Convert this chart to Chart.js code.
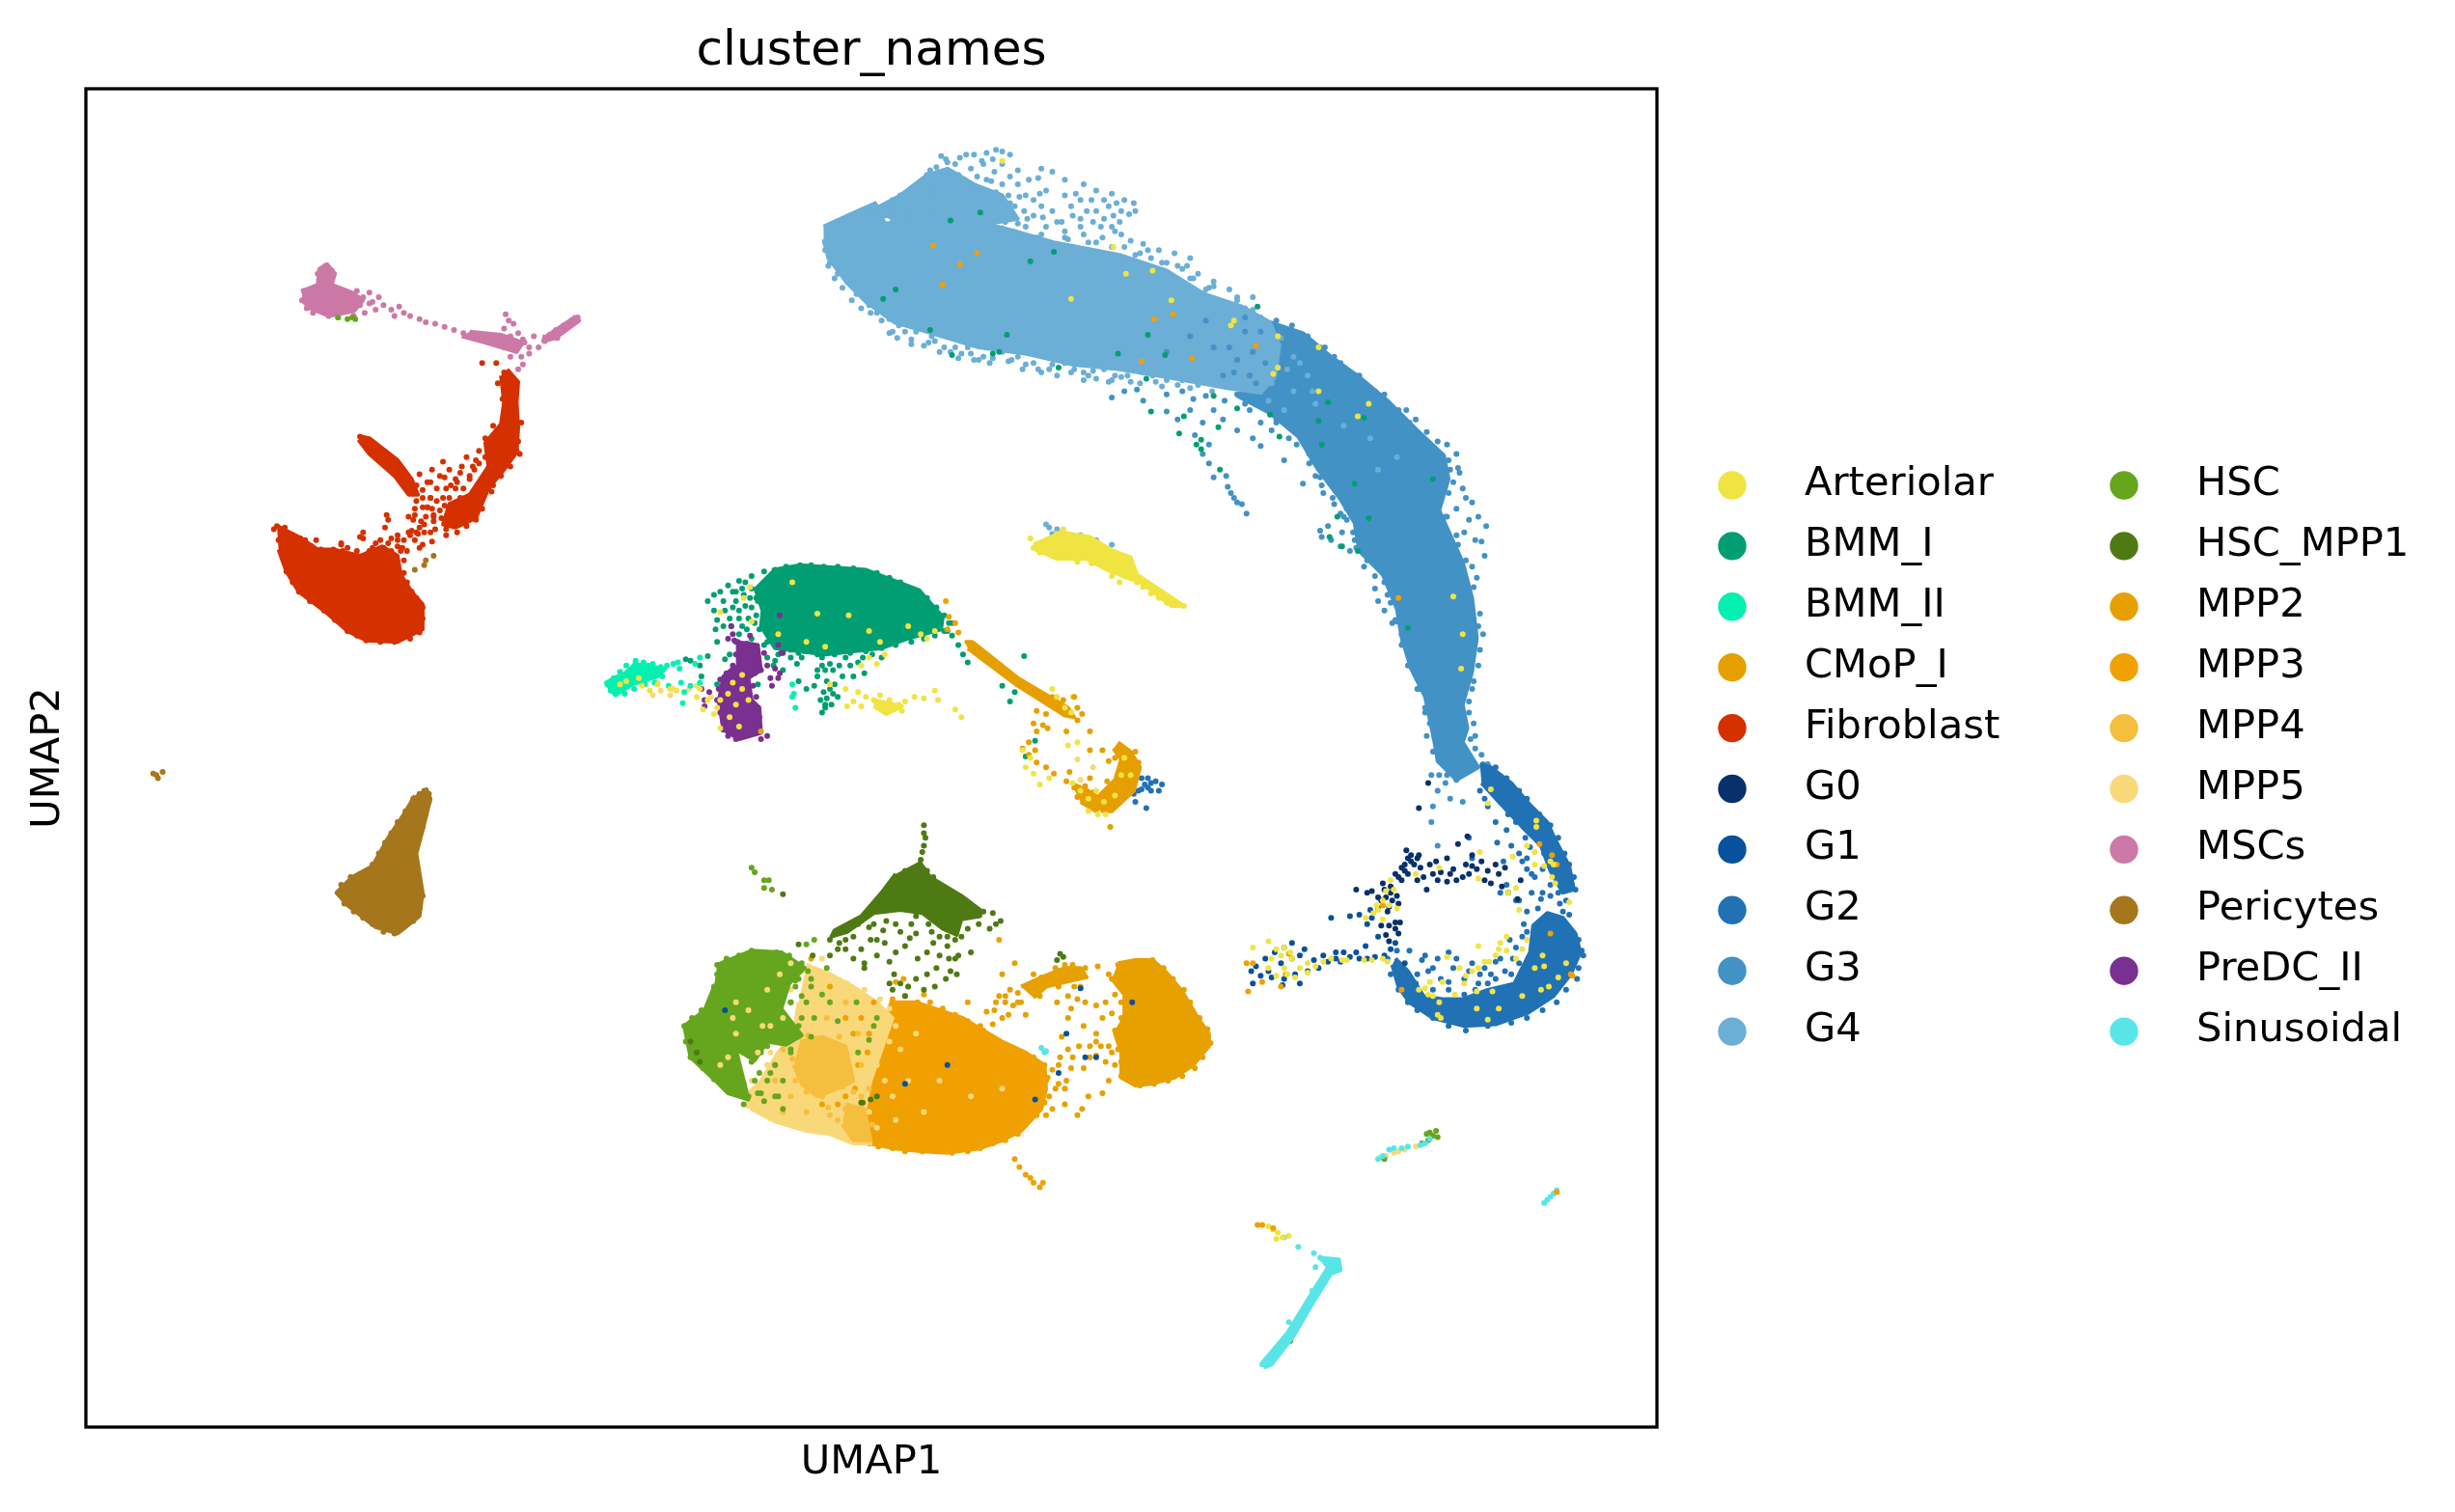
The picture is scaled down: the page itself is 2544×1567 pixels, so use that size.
<!DOCTYPE html>
<html><head><meta charset="utf-8">
<style>html,body{margin:0;padding:0;background:#fff}canvas{display:block}</style>
<script src="https://cdn.jsdelivr.net/npm/chart.js@4"></script></head>
<body><canvas id="c" width="2544" height="1567"></canvas>
<script>
// Outlines of the densely packed bodies of each cluster
const g4Body=[[526,145],[541,138],[559,130],[565,143],[589,140],[616,140],[649,148],[673,155],[715,163],[745,173],[769,188],[793,196],[811,206],[817,221],[814,241],[805,251],[784,248],[745,241],[715,236],[685,233],[655,226],[625,222],[595,213],[571,206],[553,193],[541,181],[529,165],[526,153]];
const g4Upper=[[556,135],[575,125],[592,112],[605,108],[622,118],[640,125],[650,140],[620,145],[580,145]];
const g3Body=[[811,206],[832,213],[850,228],[868,241],[886,256],[904,274],[922,291],[925,306],[919,326],[928,346],[934,359],[940,382],[943,407],[940,429],[934,450],[937,465],[934,474],[944,490],[930,498],[918,486],[916,474],[910,445],[901,427],[895,407],[892,389],[883,367],[868,352],[865,334],[856,319],[841,299],[829,279],[811,264],[790,253]];
const g2Ring=[[889,616],[893,630],[900,640],[915,650],[935,655],[955,654],[975,647],[992,636],[1003,622],[1009,608],[1006,596],[998,586],[988,583],[979,591],[977,608],[967,628],[950,632],[934,638],[922,638],[909,636],[899,620],[891,612]];
const g2Limb=[[945,488],[952,490],[965,500],[977,514],[988,525],[993,536],[1002,553],[1005,568],[998,570],[990,556],[984,540],[972,528],[958,513],[946,500]];
const fibroblastBlob=[[177,336],[191,343],[203,351],[213,351],[230,355],[244,349],[254,355],[256,367],[263,378],[270,386],[270,402],[254,410],[234,409],[222,403],[207,390],[191,378],[183,365],[178,351]];
const fibroblastArm=[[231,279],[236,280],[254,294],[263,306],[267,316],[261,316],[252,304],[236,290],[229,281]];
const fibroblastBand=[[324,236],[331,244],[330,257],[331,273],[330,289],[322,300],[312,312],[304,331],[291,337],[283,335],[287,322],[300,316],[312,298],[310,283],[320,271],[322,257],[320,240]];
const mscBlob=[[193,186],[203,182],[204,172],[209,169],[214,175],[212,182],[225,187],[232,192],[226,199],[210,202],[198,197],[193,192]];
const mscArm=[[300,212],[320,214],[334,219],[330,225],[310,219],[295,215]];
const mscTail=[[366,202],[370,205],[355,216],[347,218],[348,214]];
const periBody=[[272,503],[275,510],[270,530],[266,545],[270,570],[268,585],[254,596],[240,592],[222,578],[215,570],[225,560],[238,553],[248,535],[258,520],[265,508]];
const arteriolarBody=[[660,348],[678,340],[696,343],[709,351],[722,356],[726,367],[756,387],[748,387],[730,373],[709,365],[694,357],[675,357],[661,351]];
const arteriolarSmall=[[558,447],[576,451],[566,456],[558,451]];
const bmm1Body=[[493,364],[511,361],[553,364],[587,377],[602,394],[601,402],[579,408],[563,414],[527,418],[495,414],[486,400],[487,390],[482,375]];
const bmm2Body=[[404,424],[425,427],[420,432],[404,437],[393,444],[387,436],[396,431]];
const predcBody=[[470,410],[484,412],[486,428],[478,433],[480,447],[485,452],[486,468],[472,472],[462,466],[459,448],[462,432],[470,425]];
const mpp3Body=[[568,640],[585,640],[600,645],[615,650],[628,658],[640,665],[655,672],[667,680],[668,695],[665,708],[652,722],[640,728],[626,733],[605,736],[589,735],[570,733],[555,730],[552,710],[548,700],[555,690],[563,672],[562,655]];
const mpp2Lobe=[[714,615],[725,613],[736,613],[744,620],[755,633],[765,650],[772,660],[772,668],[762,680],[750,688],[735,692],[725,693],[716,688],[716,672],[712,660],[718,650],[718,635],[710,625]];
const mpp2Bridge=[[652,630],[665,624],[680,618],[690,618],[694,624],[680,627],[668,630],[660,637]];
const mpp5Body=[[515,616],[530,622],[545,630],[560,640],[570,650],[563,670],[556,690],[552,710],[556,730],[545,730],[530,724],[515,722],[495,716],[480,708],[476,700],[486,690],[497,672],[507,660],[510,640]];
const mpp4Body=[[511,665],[525,662],[540,668],[545,690],[535,695],[522,700],[512,692],[507,680]];
const mpp4Small=[[540,705],[552,708],[556,728],[545,728],[538,718]];
const hscBody=[[458,616],[480,607],[499,608],[514,618],[504,628],[499,644],[512,661],[502,667],[490,665],[482,677],[470,670],[475,690],[478,702],[465,698],[456,689],[441,675],[437,655],[450,645],[456,630]];
const hscMpp1Body=[[587,550],[594,560],[604,566],[614,572],[626,581],[626,585],[614,587],[611,597],[602,593],[589,583],[575,581],[558,583],[541,595],[531,598],[533,594],[550,585],[563,570],[572,558]];
const sinuBody=[[806,870],[822,851],[838,825],[848,809],[843,803],[855,804],[856,811],[850,813],[840,829],[826,853],[812,871],[807,873]];
const cmopStream=[[616,410],[621,410],[650,433],[682,452],[686,458],[680,457],[650,438],[618,414]];
const cmopLoop=[[714,474],[722,480],[728,490],[724,505],[710,518],[704,518],[700,510],[712,498],[716,485],[711,478]];
const cmopArc=[[684,500],[695,505],[705,512],[700,518],[690,512]];
// Individually visible cells
const g4Dots=[[636,96],[640,97],[645,99],[630,98],[622,99],[617,99],[605,104],[601,100],[610,105],[598,107],[592,112],[600,112],[587,118],[582,122],[596,120],[605,118],[575,125],[570,128],[565,132],[558,134],[552,138],[546,142],[541,147],[535,150],[530,152],[527,155],[612,112],[620,108],[628,105],[635,110],[650,109],[657,115],[665,108],[672,110],[680,115],[692,118],[700,122],[710,124],[718,128],[724,130],[725,135],[716,135],[708,132],[700,135],[690,128],[680,125],[668,122],[660,128],[650,118],[640,118],[630,115],[620,118],[612,125],[600,130],[590,130],[580,135],[570,140],[625,128],[638,128],[648,132],[660,138],[672,135],[685,138],[698,142],[710,145],[716,150],[722,154],[730,156],[740,160],[750,162],[760,165],[755,172],[765,175],[775,180],[785,185],[790,192],[770,190],[780,195],[795,197],[805,203],[800,190],[590,140],[600,138],[612,135],[620,140],[632,138],[642,142],[655,145],[668,145],[680,148],[692,150],[704,152],[580,145],[610,143],[575,135],[585,125],[595,125],[605,126],[615,130],[640,105],[655,125],[665,132],[678,142],[690,140],[705,140],[715,142],[725,163],[735,165],[745,168],[760,178],[770,185],[782,200],[527,160],[530,168],[535,175],[541,180],[547,188],[555,195],[560,200],[568,204],[574,208],[573,216],[585,212],[595,215],[603,222],[610,222],[620,226],[628,228],[618,222],[640,225],[650,228],[660,232],[670,236],[680,232],[692,238],[700,242],[712,240],[722,244],[705,236],[745,243],[736,240],[755,243],[765,246],[692,243],[708,244],[597,218],[612,229],[634,229],[655,233],[675,240],[690,233],[730,238],[750,240],[782,243],[796,240],[672,341],[675,338],[670,337],[668,335],[690,342],[700,345],[710,348],
[604,102],[613,101],[627,103],[634,102],[589,116],[594,109],[603,110],[608,113],[616,115],[624,113],[633,116],[645,113],[663,114],[576,130],[584,129],[592,122],[599,124],[608,122],[618,124],[626,121],[636,123],[644,125],[651,126],[664,124],[687,124],[697,128],[705,128],[713,130],[721,137],[570,135],[578,140],[588,135],[596,136],[604,133],[609,131],[622,134],[628,133],[637,135],[645,137],[654,135],[666,139],[675,142],[684,132],[694,135],[703,145],[712,148],[565,138],[574,143],[582,140],[594,142],[603,142],[626,142],[640,146],[662,152],[682,153],[700,155],[718,158],[733,160],[758,170],[772,184],[790,190],[568,213],[582,217],[590,221],[607,225],[625,230],[644,231],[663,236],[684,238],[698,237],[716,241],[738,244],[774,250],[656,140],[690,145],[711,138],[624,136],[632,125],[645,130],[601,118],
[529,170],[533,178],[538,184],[544,192],[550,197],[556,200],[563,205],[570,212],[578,212],[582,220],[593,219],[600,225],[614,226],[622,230],[632,232],[646,230],[653,236],[665,238],[672,233],[686,236],[695,240],[710,243],[720,240],[728,245],[742,247],[752,246],[760,248],[650,143],[665,150],[680,152],[695,155],[710,158],[728,162],[742,168],[752,170],[762,178],[775,183],[800,198]];
const g3Dots=[[815,205],[825,208],[835,215],[843,222],[852,228],[860,238],[868,240],[878,250],[885,258],[890,266],[893,272],[903,278],[910,285],[919,292],[925,294],[931,299],[928,308],[934,312],[940,321],[944,330],[949,336],[946,346],[948,355],[943,369],[940,362],[935,340],[930,325],[922,305],[912,298],[905,290],[915,310],[924,330],[931,348],[934,365],[937,380],[940,395],[942,410],[944,425],[940,440],[938,455],[942,470],[946,482],[950,488],[790,252],[800,256],[810,262],[822,268],[830,278],[836,290],[832,309],[820,294],[805,285],[840,304],[845,315],[852,322],[860,332],[844,343],[856,349],[865,345],[871,362],[880,384],[892,397],[878,368],[886,380],[895,405],[902,425],[905,440],[910,455],[916,470],[920,486],[924,495],[718,250],[726,249],[710,254],[730,256],[745,252],[755,250],[760,262],[768,270],[752,268],[745,263],[762,255],[775,262],[763,278],[772,284],[768,290],[772,296],[775,305],[784,311],[786,315],[790,321],[796,328],[783,304],[788,318],[793,322],[812,240],[820,250],[826,259],[832,268],[815,270],[823,280],[838,260],[848,272],[835,248],[857,340],[866,320],[859,312],[850,298],[914,495],[934,512],[918,505],[926,510],[914,525],[918,540],[915,515],[947,488],[930,498],[843,339],[850,345],[862,352],[848,336],[856,328],[844,310],[838,295],[851,306],[860,325],[873,358],[878,376],[884,390],[889,398],[896,410],[907,440],[913,462],[932,302],[936,318],[942,345],[938,332],[930,290],[924,284],[918,282],[911,276],[904,268],[898,262],[944,400],[945,415],[939,472],[942,478],[919,495],[923,500],[915,480],[911,470],[798,262],[805,270],[812,275],[782,256],[770,253],[781,268],[790,275],[800,280],
[795,258],[815,268],[828,284],[836,296],[843,305],[851,318],[858,330],[864,340],[866,350],[876,358],[884,372],[888,385],[891,396],[895,412],[899,425],[906,440],[910,452],[846,222],[856,232],[866,240],[875,248],[884,252],[893,262],[900,270],[926,300],[925,315],[923,330],[930,342],[936,358],[941,375],[945,392],[947,405],[941,435],[938,448],[941,462]];
const g3OverG4=[[790,230],[795,212],[785,222],[800,225],[805,212],[798,240],[808,232],[781,240],[775,222],[770,205],[788,238],[802,245],[795,203],[760,215],[745,225]];
const g4OverG3=[[815,225],[822,236],[812,245],[826,250],[835,240],[820,262],[840,258],[858,272],[875,280],[892,292],[880,300],[818,216],[826,228],[810,256],[830,232],[838,250]];
const g2Dots=[[955,490],[962,497],[970,505],[975,510],[983,520],[990,527],[995,535],[999,545],[1002,552],[1005,560],[1006,568],[1000,575],[996,577],[990,565],[985,570],[975,582],[980,592],[988,585],[998,582],[1002,584],[1008,600],[1010,607],[1011,610],[1008,618],[1007,625],[1000,632],[994,640],[985,645],[975,650],[965,653],[950,655],[936,658],[925,655],[915,650],[905,645],[899,640],[893,632],[888,622],[886,612],[892,607],[900,607],[910,610],[918,612],[925,608],[930,612],[940,615],[945,622],[935,625],[920,625],[912,620],[905,622],[915,632],[925,632],[935,635],[942,632],[950,628],[957,632],[965,622],[970,615],[968,605],[975,595],[973,590],[982,590],[991,585],[970,545],[975,555],[980,560],[965,540],[960,550],[958,570],[962,565],[975,548],[985,555],[978,570],[970,575],[968,575],[982,580],[990,548],[995,560],[974,535],[968,525],[963,520],[958,512],[948,510],[945,505],[950,515],[955,525],[962,530],[956,538],[940,548],[938,535],[729,497],[733,497],[738,499],[742,501],[735,505],[727,505],[740,505],[725,512],[732,516],[720,500],[723,495],[731,501],[735,500],[729,504],[733,503],[724,507],[908,613],[915,618],[928,618],[938,620],[948,618],[955,614],[961,620],[966,612],[972,598],[964,600],[958,612],[952,622],[904,628],[925,627],[944,628],[955,625],[908,640],[975,530],[982,537],[986,545],[992,552],[977,541],[972,550],[978,558],[995,570],[990,572],[984,574]];
const g0Dots=[[899,548],[903,552],[895,554],[891,558],[897,556],[901,546],[907,554],[913,552],[917,550],[924,548],[909,560],[915,558],[905,562],[911,568],[924,563],[930,562],[936,552],[940,546],[938,558],[946,550],[950,556],[957,558],[952,564],[959,566],[963,570],[969,574],[971,562],[961,554],[883,564],[885,573],[889,575],[887,579],[893,577],[866,568],[873,570],[876,569],[882,591],[887,591],[891,589],[894,589],[891,593],[893,596],[887,601],[885,597],[931,539],[937,534],[906,516],[912,500],[895,562],[880,580],[888,570],[884,568],[892,572],[920,557],[928,555],[943,555],[955,552],[948,562],[898,543],[906,546],[934,560],[940,553],[918,562],[926,558],[901,550],[897,552],[905,548],[893,560],[899,558],[886,582],[882,575],[880,573],[888,566]];
const g1Dots=[[802,617],[808,612],[814,608],[820,605],[825,602],[810,620],[818,615],[825,612],[830,610],[833,606],[805,623],[812,624],[820,625],[827,622],[835,620],[842,618],[848,614],[853,612],[858,608],[856,614],[862,611],[868,612],[873,612],[878,611],[884,610],[888,606],[891,602],[872,604],[880,598],[875,581],[868,584],[862,585],[873,590],[876,586],[850,586],[799,620],[800,628],[819,629],[830,628],[839,613],[845,610],[853,608],[866,608],[897,615]];
const arteriolarDots=[[658,344],[660,350],[664,353],[670,346],[675,341],[679,338],[685,344],[690,347],[695,349],[678,356],[688,359],[697,360],[703,352],[712,360],[718,358],[722,368],[726,372],[730,375],[735,379],[740,382],[745,385],[750,386],[756,387],[710,368],[715,372],[548,442],[545,448],[558,447],[562,451],[566,452],[570,453],[574,450],[578,448],[584,445],[590,446],[597,441],[599,447],[610,453],[614,458],[553,445],[562,444],[568,447],[541,451],[550,451],[576,454],[813,785],[810,783],[816,787],[819,790],[815,791],[823,789],[468,436],[474,431],[478,447],[470,450],[465,443],[452,447],[458,452],[474,440],[466,458],[456,456],[460,465],[472,464],[410,438],[415,441],[420,437],[400,435],[408,433],[396,437],[432,441],[445,445],[447,440],[449,453],[460,447],[655,490],[660,494],[658,484],[653,479],[664,501],[670,497],[695,510],[700,505],[705,512],[712,508],[716,495],[722,495],[718,484],[690,505],[685,500],[701,520],[706,520],[695,518],[688,474],[684,455],[682,476],[672,440],[675,445],[680,452]];
const arteriolarSpecks=[[640,103],[711,158],[719,175],[736,173],[684,191],[748,192],[788,205],[786,208],[816,215],[842,222],[816,235],[813,239],[842,250],[874,258],[867,266],[928,381],[933,427],[934,405],[952,504],[950,513],[981,524],[981,528],[975,540],[980,544],[990,550],[992,552],[986,553],[980,552],[991,560],[993,564],[1002,576],[966,547],[945,544],[944,561],[968,567],[963,570],[919,554],[904,558],[888,562],[885,569],[883,575],[890,568],[877,583],[872,586],[880,581],[887,578],[883,587],[892,580],[879,578],[970,581],[975,600],[962,598],[958,602],[955,610],[951,614],[948,614],[944,618],[940,620],[936,623],[932,618],[957,606],[962,607],[968,612],[972,606],[980,618],[985,610],[986,617],[1000,615],[995,624],[989,630],[984,632],[972,636],[953,633],[943,633],[935,628],[929,635],[906,632],[910,631],[913,627],[915,636],[921,627],[912,635],[919,640],[918,648],[920,650],[943,644],[950,651],[957,644],[924,611],[944,604],[800,605],[810,601],[815,606],[820,605],[818,610],[812,612],[824,608],[810,618],[820,618],[825,612],[815,623],[822,622],[830,618],[835,615],[840,617],[845,614],[850,612],[857,613],[860,613],[871,613],[876,613],[883,612],[886,614],[827,624],[835,621],[506,372],[479,375],[475,382],[460,391],[542,393],[522,392],[555,403],[562,410],[580,400],[588,405],[592,408],[597,403],[527,413],[515,410],[555,420],[550,425],[540,440],[480,397],[497,405],[428,440],[530,437],[560,424],[565,418]];
const bmm1Dots=[[452,384],[456,380],[460,378],[465,374],[472,371],[480,368],[488,365],[495,364],[502,362],[511,361],[518,361],[526,362],[535,362],[545,363],[553,365],[560,366],[568,369],[575,372],[582,376],[587,378],[592,382],[598,388],[603,393],[606,398],[603,403],[597,406],[590,408],[582,410],[572,412],[563,414],[553,416],[543,417],[533,418],[522,418],[510,417],[499,414],[490,410],[485,402],[483,393],[486,385],[490,378],[480,376],[475,380],[470,384],[463,390],[480,388],[478,395],[474,400],[458,396],[457,402],[458,410],[466,395],[472,405],[480,408],[470,378],[476,372],[483,382],[514,416],[525,420],[530,424],[527,428],[532,428],[522,432],[528,435],[533,437],[520,438],[526,442],[532,443],[535,445],[527,450],[531,450],[524,447],[538,432],[543,425],[540,420],[548,423],[552,430],[545,432],[551,420],[557,418],[563,420],[505,420],[509,424],[512,420],[500,428],[495,422],[494,425],[466,418],[463,421],[479,423],[441,422],[452,419],[447,425],[438,421],[448,432],[458,437],[484,437],[510,435],[515,440],[605,403],[608,406],[612,412],[615,418],[618,423],[608,398],[640,438],[648,442],[645,448],[661,473],[655,483],[527,452],[525,455],[654,419],[530,440],[522,428],[536,425],[525,425],[528,446],
[456,390],[462,384],[468,378],[472,390],[467,400],[476,387],[482,398],[484,384],[474,376],[479,382],[462,400],[470,410],[476,415],[488,412],[484,420],[472,395],[490,420],[497,418],[505,415],[468,388],[477,402]];
const bmm2Dots=[[388,437],[392,433],[396,429],[400,425],[406,422],[411,423],[417,424],[422,426],[426,425],[423,432],[418,436],[412,437],[405,440],[399,443],[393,443],[390,441],[430,424],[433,423],[434,427],[447,420],[427,438],[435,436],[441,438],[437,442],[436,449],[447,436],[444,424],[506,437],[507,443],[506,445],[478,414],[508,452],[414,425],[408,428],[394,436]];
const predcDots=[[465,408],[468,405],[469,409],[471,410],[477,411],[480,412],[483,413],[470,418],[468,425],[464,430],[460,434],[459,440],[458,447],[460,455],[462,461],[462,466],[465,470],[470,472],[476,470],[482,468],[485,466],[486,472],[490,470],[485,458],[484,452],[483,445],[481,438],[482,430],[480,424],[486,428],[490,425],[495,427],[498,430],[492,433],[493,438],[497,433],[448,440],[450,447],[453,442],[450,451],[463,450],[466,441],[473,412],[479,406],[480,418],[488,417],[500,417],[497,412],[499,417],[467,400],[498,393]];
const fibroblastDots=[[177,336],[182,337],[189,343],[178,345],[180,351],[183,358],[183,365],[187,372],[191,378],[198,384],[207,390],[214,396],[222,403],[228,406],[234,409],[243,410],[252,410],[262,408],[268,404],[270,395],[270,388],[266,382],[263,378],[260,372],[258,366],[254,365],[252,360],[250,352],[245,350],[240,347],[236,352],[232,344],[224,355],[222,350],[218,348],[213,351],[205,351],[202,345],[195,345],[230,279],[233,281],[236,284],[240,288],[244,288],[248,292],[252,295],[256,298],[260,304],[258,308],[263,312],[266,310],[270,318],[275,318],[273,324],[269,333],[271,340],[266,340],[262,342],[258,345],[257,350],[264,332],[278,338],[285,342],[292,340],[298,336],[304,332],[306,325],[302,320],[296,324],[288,325],[282,331],[272,330],[279,320],[285,312],[292,308],[300,304],[308,306],[313,298],[317,303],[320,295],[330,288],[331,282],[328,270],[329,258],[327,250],[325,241],[322,238],[318,245],[321,255],[315,272],[310,280],[306,288],[312,312],[305,316],[298,322],[308,319],[315,310],[284,305],[275,308],[268,303],[276,346],[270,348],[248,332],[261,340],[246,337],[232,340],[277,330],[265,325],[294,318],[287,318],[317,232],[308,232],[273,308],[281,304],[287,300],[295,298],[304,294],[291,306],[300,306],[275,318],[283,318],[291,312],[271,335],[277,333],[263,339],[254,345],[247,329],[261,330],[265,329],[230,343],[218,347],[250,344],[267,341],[254,349],[273,324],[277,329],[281,326],[268,337],[279,312],[270,313],[276,300],[283,295],[298,292],[310,292],[303,300],[296,312],[289,330],[275,340],
[192,344],[199,349],[210,355],[219,352],[228,352],[238,350],[243,345],[248,347],[256,352],[258,358],[175,338],[181,343],[186,348],[258,310],[266,320],[270,324],[276,325],[284,323],[288,310],[294,302],[302,298],[314,290],[316,280],[306,296],[326,262],[333,270],[324,275],[332,290],[326,298],[320,304],[314,314],[308,325],[298,328],[285,338],[254,342],[265,345],[260,352],[268,350]];
const mscDots=[[208,170],[212,173],[203,175],[205,182],[194,186],[193,192],[196,197],[200,200],[210,202],[216,203],[226,202],[233,200],[236,194],[232,190],[228,186],[236,187],[242,190],[245,195],[240,198],[250,198],[255,196],[252,202],[258,200],[262,202],[268,204],[272,206],[278,207],[284,209],[290,211],[296,213],[302,214],[308,216],[314,217],[320,216],[326,215],[331,213],[334,217],[338,222],[344,222],[348,218],[341,215],[351,214],[355,211],[360,208],[365,205],[369,203],[356,216],[328,222],[326,228],[333,228],[338,226],[331,236],[334,233],[323,201],[325,205],[322,210],[328,207],[317,218],[322,222],[335,219],[203,194],[222,198],[230,195],[238,193]];
const periDots=[[271,505],[274,507],[268,507],[264,510],[259,518],[254,525],[250,532],[274,512],[272,520],[270,528],[266,538],[264,548],[266,558],[268,566],[270,572],[268,580],[264,588],[258,592],[252,596],[245,595],[238,590],[232,586],[226,582],[220,577],[216,570],[218,565],[224,560],[230,558],[238,552],[242,545],[246,538],[100,495],[104,493],[101,497],[98,494],[272,358],[271,361],[277,355],[265,364]];
const cmopDots=[[653,478],[657,482],[662,487],[668,490],[673,494],[681,499],[686,503],[691,507],[696,511],[701,515],[707,517],[709,528],[683,493],[696,497],[707,499],[696,479],[704,479],[708,486],[712,484],[662,454],[668,456],[666,463],[662,467],[669,465],[681,467],[688,460],[696,467],[657,474],[661,479],[684,455],[688,452],[691,456],[686,445],[679,447],[672,445],[660,462],[703,512],[698,506],[693,502],[688,509],[709,510],[712,512],[716,508],[719,500],[723,497],[727,487],[725,480]];
const mpp2Dots=[[714,616],[722,615],[730,614],[736,613],[743,618],[749,625],[756,632],[760,640],[766,650],[771,657],[773,666],[768,675],[763,682],[755,687],[746,690],[737,692],[728,693],[722,690],[716,687],[716,678],[714,670],[718,662],[712,658],[716,650],[716,640],[718,630],[708,622],[701,617],[693,618],[685,616],[680,616],[674,618],[665,624],[658,630],[650,634],[642,636],[636,640],[630,646],[644,648],[652,640],[664,636],[672,628],[680,626],[688,622],[682,636],[684,644],[682,650],[675,640],[690,630],[693,640],[700,642],[706,640],[710,647],[704,650],[700,660],[692,655],[696,668],[689,668],[682,670],[677,675],[684,682],[672,683],[668,690],[674,695],[680,695],[692,682],[700,674],[706,678],[708,690],[704,698],[695,700],[691,708],[680,705],[688,712],[700,665],[640,622],[642,640],[626,655],[634,654],[648,615],[660,622],[672,622],[680,620],[710,625],[712,635],[708,668],[720,640],[722,650],[647,642],[655,648],[640,650],[635,645],[688,638],[686,630],[678,662],[685,675],[676,680],[696,675],[703,668],[712,680],[710,672],[681,690],[645,632],[638,636],[650,640],[660,633],[668,626],[676,630]];
const mpp3Dots=[[570,638],[578,636],[586,640],[594,640],[602,644],[610,648],[618,652],[628,658],[636,664],[644,668],[652,672],[660,675],[667,680],[669,688],[667,696],[667,704],[662,712],[655,718],[650,724],[642,728],[634,730],[626,733],[618,735],[608,736],[598,735],[589,735],[578,735],[570,733],[561,732],[555,730],[648,740],[651,745],[655,750],[660,755],[664,758],[666,755],[658,752],[659,700],[676,692],[670,700],[672,708],[668,712],[572,627],[580,630],[590,635]];
const mpp3OverMpp5=[[562,685],[555,660],[558,640],[550,650],[545,660],[548,680],[546,695],[540,700],[535,705],[525,705],[552,715],[544,725],[530,630],[518,612],[500,615],[540,650],[554,672],[558,700],[560,725]];
const mpp4Dots=[[510,662],[516,661],[524,664],[536,662],[540,672],[540,684],[538,694],[525,700],[515,697],[508,690],[506,676],[510,683],[529,707],[540,708],[548,712],[543,722],[552,725],[550,700],[545,697],[530,712],[557,718],[500,670],[495,690],[505,700],[550,680],[555,695],[515,710],[535,715],[528,650],[548,660],[500,710],[540,640]];
const mpp5Dots=[[512,620],[520,622],[530,624],[540,628],[552,632],[562,638],[568,644],[556,646],[558,655],[552,665],[541,628],[505,632],[510,648],[500,670],[492,672],[490,680],[480,690],[482,700],[478,706],[485,710],[492,714],[500,716],[510,718],[520,720],[530,722],[540,720],[484,662],[488,650],[498,655],[515,632],[525,612],[890,736],[885,738],[881,739],[893,735],[897,734],[904,732],[817,862],[818,860],[815,864],[465,465],[470,466],[476,468],[480,464],[461,455],[454,445],[445,438],[440,440],[428,444],[430,440],[422,441],[420,436],[417,444],[688,485],[698,490],[690,498],[685,445]];
const mpp5Mixed=[[470,660],[465,675],[468,650],[478,645],[490,632],[498,622],[505,615],[487,655],[460,680],[484,672],[492,655],[470,640],[500,650],[565,650],[572,655],[568,665],[575,670],[560,680],[565,690],[570,700],[555,710],[560,720],[572,715],[580,690],[600,690],[620,700],[590,710],[585,660],[640,695]];
const hscDots=[[458,616],[464,612],[472,610],[480,607],[488,608],[496,608],[504,610],[512,615],[516,620],[518,630],[512,636],[505,640],[500,648],[510,655],[508,661],[502,656],[495,662],[490,668],[480,678],[482,690],[484,698],[475,692],[470,697],[465,690],[456,689],[449,682],[441,675],[438,665],[437,655],[442,650],[448,645],[454,640],[456,630],[458,622],[500,622],[508,626],[497,638],[490,645],[478,700],[475,705],[488,703],[497,700],[495,680],[480,554],[482,557],[488,562],[491,562],[488,567],[493,568],[520,600],[515,603],[510,625],[528,618],[558,655],[555,664],[915,725],[912,728],[908,730],[917,722],[913,723],[918,726],[911,724],[884,740],[820,857],[824,856],[216,203],[222,204],[225,203],[227,204],[470,650],[478,660],[486,672],[492,685],[505,670],[468,678],[455,650],[484,650],[505,640],[512,650],[520,650],[518,662],[505,672],[495,680],[490,690],[500,690],[485,685],[495,700],[508,630],[518,625],[525,635],[515,640],[530,640],[486,698],[500,708],[560,650],[547,640],[535,652],[548,672]];
const hscMpp1Dots=[[590,527],[590,532],[591,535],[590,540],[589,544],[588,549],[592,556],[596,560],[600,566],[628,582],[611,593],[548,590],[533,596],[530,600],[536,602],[545,598],[555,592],[564,594],[575,595],[585,596],[596,602],[605,604],[610,612],[607,620],[611,622],[612,610],[598,618],[604,625],[592,622],[597,630],[585,625],[590,632],[575,628],[570,632],[578,636],[568,628],[550,606],[545,612],[540,606],[552,618],[560,610],[568,614],[552,615],[535,606],[530,610],[620,608],[636,590],[632,593],[639,588],[634,583],[610,600],[592,608],[556,600],[578,604],[565,602],[500,571],[519,610],[510,603],[677,609],[675,613],[679,611],[556,702],[551,704],[560,700],[550,704],[441,665],[445,672],[447,678],[820,858],[818,862],[572,590],[582,590],[593,590],[600,598],[605,590],[540,600],[558,590],[566,588],[600,610],[606,612],[614,598],[581,599],[572,608],[586,612],[580,630],[571,622],[560,600],[560,578],[570,565],[578,556],[550,588],[600,575],[610,580],[620,585],[625,590],[618,593],[605,598],[595,595],[585,585]];
const sinuDots=[[806,871],[808,869],[810,867],[813,864],[815,861],[817,858],[820,855],[846,804],[843,803],[849,812],[846,818],[838,824],[823,844],[839,800],[829,796],[820,790],[840,809],[880,740],[883,738],[887,734],[890,733],[895,733],[899,732],[907,731],[910,730],[913,727],[986,768],[988,766],[990,764],[992,762],[994,760],[665,669],[667,672],[668,671]];
const g1Specks=[[463,645],[693,675],[700,675],[681,660],[661,702],[578,692],[605,680],[676,685],[690,631],[723,640]];
const mpp3Specks=[[596,157],[624,162],[613,169],[602,182],[737,204],[749,201],[802,221],[729,231],[761,229],[893,382],[895,632],[883,578],[983,539],[991,546],[994,552],[990,596],[1003,622],[1004,623],[800,615],[796,615],[806,627],[797,633],[818,630],[821,622],[823,609],[486,467],[813,784],[806,782],[803,782],[994,761],[606,394],[605,402],[612,404],[610,398],[604,384],[618,640],[577,625],[638,600]];
const bmm1Specks=[[626,136],[607,141],[673,161],[658,167],[572,185],[564,191],[594,211],[643,214],[608,227],[634,226],[638,225],[676,235],[733,214],[714,226],[744,227],[732,242],[775,253],[735,263],[756,266],[778,273],[753,277],[767,281],[764,284],[767,287],[779,300],[790,261],[811,265],[817,279],[844,284],[842,269],[848,257],[871,267],[915,306],[865,309],[874,331],[854,330],[849,343],[857,349],[867,352],[899,401],[803,196]];
// Axis limits and categories
const xLimits=[55,1058];
const yLimits=[57,911];
const names=["Arteriolar","BMM_I","BMM_II","CMoP_I","Fibroblast","G0","G1","G2","G3","G4","HSC","HSC_MPP1","MPP2","MPP3","MPP4","MPP5","MSCs","Pericytes","PreDC_II","Sinusoidal"];
const colors=["#f0e442","#029e73","#04f0b0","#e69f00","#d53000","#08306b","#08519c","#2171b5","#4292c6","#6baed6","#66a61e","#4e7a14","#e6a000","#f0a000","#f6be3f","#f9d87a","#cc79a7","#a6761d","#7a3090","#59e5e8"];
// paint order, back to front: [values, category, dense outline?]
const layers=[
 [g3Body,8,1],[g3Dots,8,0],[g4Body,9,1],[g4Upper,9,1],[g4Dots,9,0],[g3OverG4,8,0],[g4OverG3,9,0],[g2Ring,7,1],[g2Limb,7,1],[g2Dots,7,0],[g0Dots,5,0],[g1Dots,6,0],
 [fibroblastBlob,4,1],[fibroblastArm,4,1],[fibroblastBand,4,1],[fibroblastDots,4,0],[mscBlob,16,1],[mscArm,16,1],[mscTail,16,1],[mscDots,16,0],[periBody,17,1],[periDots,17,0],
 [mpp2Lobe,12,1],[mpp2Bridge,12,1],[mpp2Dots,12,0],[mpp3Body,13,1],[mpp3Dots,13,0],[mpp5Body,15,1],[mpp5Dots,15,0],[mpp3OverMpp5,13,0],[mpp4Body,14,1],[mpp4Small,14,1],[mpp4Dots,14,0],
 [hscBody,10,1],[hscDots,10,0],[mpp5Mixed,15,0],[hscMpp1Body,11,1],[hscMpp1Dots,11,0],
 [bmm1Body,1,1],[bmm1Dots,1,0],[bmm2Body,2,1],[bmm2Dots,2,0],[predcBody,18,1],[predcDots,18,0],[cmopStream,3,1],[cmopLoop,3,1],[cmopArc,3,1],[cmopDots,3,0],
 [sinuBody,19,1],[sinuDots,19,0],[arteriolarBody,0,1],[arteriolarSmall,0,1],[arteriolarDots,0,0],[bmm1Specks,1,0],[g1Specks,6,0],[mpp3Specks,13,0],[arteriolarSpecks,0,0]
];
const datasets=layers.map(([pts,k,dense],i)=>({label:names[k],data:pts.map(p=>({x:p[0],y:p[1]})),backgroundColor:colors[k],borderColor:colors[k],
 showLine:!!dense,fill:dense?'shape':false,borderWidth:dense?4:0,borderJoinStyle:'round',tension:0,pointRadius:dense?0:3,pointHoverRadius:dense?0:3,order:layers.length-i}));
const frame={id:'frame',afterDraw(ch){const a=ch.chartArea,c=ch.ctx;c.save();c.strokeStyle='#000';c.lineWidth=3.3;c.strokeRect(a.left,a.top,a.right-a.left,a.bottom-a.top);c.restore();}};
const key={id:'key',afterDraw(ch){const c=ch.ctx;c.save();c.font='41.67px "DejaVu Sans"';c.textBaseline='alphabetic';c.textAlign='left';
 names.forEach((n,i)=>{const col=i<10?0:1,row=i%10,y=503+row*62.9;c.fillStyle=colors[i];c.beginPath();c.arc(col?2201:1795,y,14.7,0,Math.PI*2);c.fill();c.fillStyle='#000';c.fillText(n,col?2276:1870,y+10);});c.restore();}};
new Chart(document.getElementById('c'),{type:'scatter',data:{datasets},plugins:[frame,key],options:{
 responsive:false,animation:false,devicePixelRatio:1,layout:{padding:{left:0,right:827,top:0,bottom:0}},
 plugins:{legend:{display:false},tooltip:{enabled:false},
  title:{display:true,text:'cluster_names',fullSize:false,color:'#000',font:{family:'DejaVu Sans',size:50,weight:'normal'},padding:{top:24,bottom:8}}},
 scales:{
  x:{type:'linear',min:xLimits[0],max:xLimits[1],grid:{display:false},ticks:{display:false},border:{display:false},afterFit(s){s.height=88;},
     title:{display:true,text:'UMAP1',color:'#000',font:{family:'DejaVu Sans',size:41.67},padding:{top:0,bottom:26}}},
  y:{type:'linear',reverse:true,min:yLimits[0],max:yLimits[1],grid:{display:false},ticks:{display:false},border:{display:false},afterFit(s){s.width=89;},
     title:{display:true,text:'UMAP2',color:'#000',font:{family:'DejaVu Sans',size:41.67},padding:{top:25,bottom:19}}}
 }}});
</script></body></html>
